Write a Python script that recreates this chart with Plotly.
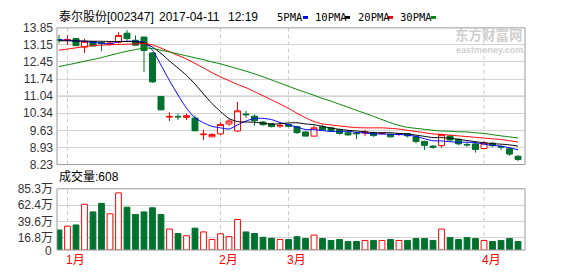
import plotly.graph_objects as go

W, H = 578, 276

# ---------------- data ----------------
idx = list(range(55))
opens = [13.37, 13.34, 13.41, 13.06, 13.28, 13.25, 13.18, 13.26, 13.63, 13.34,
         13.47, 12.82, 11.03, 10.18, 10.21, 10.17, 10.14, 9.46, 9.37, 9.49,
         9.90, 9.61, 10.31, 10.22, 9.98, 9.91, 9.81, 9.88, 9.79, 9.57,
         9.40, 9.79, 9.74, 9.66, 9.54, 9.52, 9.53, 9.54, 9.50, 9.48,
         9.47, 9.50, 9.37, 9.18, 8.99, 9.01, 9.40, 9.27, 9.06, 9.08,
         8.89, 9.11, 8.97, 8.88, 8.57]
highs = [13.56, 13.54, 13.43, 13.41, 13.30, 13.31, 13.30, 13.67, 13.76, 13.54,
         13.50, 12.84, 11.04, 10.38, 10.33, 10.33, 10.25, 9.67, 9.52, 9.96,
         10.09, 10.81, 10.44, 10.29, 10.02, 9.93, 9.92, 9.92, 9.82, 9.61,
         9.83, 9.87, 9.76, 9.70, 9.62, 9.57, 9.66, 9.59, 9.56, 9.50,
         9.52, 9.53, 9.41, 9.21, 9.03, 9.50, 9.46, 9.30, 9.14, 9.18,
         9.18, 9.16, 9.01, 8.92, 8.62]
lows = [13.22, 13.15, 13.10, 12.82, 13.08, 12.89, 13.12, 13.21, 13.32, 13.11,
        12.04, 11.59, 10.47, 10.02, 10.06, 10.06, 9.60, 9.24, 9.35, 9.44,
        9.83, 9.57, 10.15, 9.83, 9.82, 9.76, 9.74, 9.76, 9.50, 9.38,
        9.38, 9.62, 9.59, 9.46, 9.41, 9.27, 9.40, 9.37, 9.46, 9.35,
        9.40, 9.35, 9.10, 8.83, 8.88, 8.92, 9.20, 9.03, 8.96, 8.72,
        8.88, 8.95, 8.83, 8.59, 8.37]
closes = [13.35, 13.37, 13.12, 13.30, 13.11, 13.21, 13.22, 13.54, 13.41, 13.14,
          12.92, 11.63, 10.48, 10.21, 10.19, 10.24, 9.62, 9.48, 9.47, 9.88,
          10.02, 10.44, 10.28, 10.03, 9.87, 9.79, 9.84, 9.80, 9.54, 9.40,
          9.74, 9.66, 9.63, 9.51, 9.45, 9.50, 9.56, 9.42, 9.52, 9.37,
          9.49, 9.41, 9.18, 9.02, 8.94, 9.46, 9.24, 9.08, 9.04, 8.85,
          9.12, 9.01, 8.95, 8.66, 8.44]
volumes = [27.9, 33.2, 34.9, 63.7, 53.1, 65.0, 50.4, 79.6, 59.7, 49.5,
           53.1, 58.8, 49.5, 29.2, 23.0, 19.9, 30.5, 25.2, 14.6, 22.6,
           18.6, 42.5, 25.2, 23.0, 17.7, 16.3, 14.6, 14.6, 18.6, 15.9,
           20.8, 15.9, 13.3, 14.6, 11.9, 11.9, 13.3, 13.3, 13.3, 14.6,
           13.3, 13.3, 15.9, 15.9, 13.3, 29.2, 17.3, 14.6, 17.3, 15.9,
           13.3, 11.9, 13.3, 15.9, 11.9]
ma5 = [13.36, 13.34, 13.31, 13.29, 13.25, 13.22, 13.19, 13.28, 13.30, 13.30,
       13.25, 12.93, 12.32, 11.68, 11.09, 10.55, 10.15, 9.95, 9.80, 9.74,
       9.69, 9.86, 10.02, 10.13, 10.13, 10.08, 9.96, 9.87, 9.77, 9.67,
       9.66, 9.63, 9.59, 9.59, 9.60, 9.55, 9.53, 9.49, 9.49, 9.47,
       9.47, 9.44, 9.39, 9.29, 9.21, 9.20, 9.17, 9.15, 9.15, 9.13,
       9.07, 9.02, 8.99, 8.92, 8.84]
ma10 = [13.32, 13.32, 13.31, 13.31, 13.30, 13.30, 13.29, 13.29, 13.29, 13.28,
        13.23, 13.06, 12.80, 12.49, 12.20, 11.90, 11.54, 11.13, 10.74, 10.41,
        10.12, 10.00, 9.98, 9.97, 9.93, 9.89, 9.91, 9.94, 9.95, 9.90,
        9.87, 9.80, 9.73, 9.68, 9.64, 9.61, 9.58, 9.54, 9.54, 9.54,
        9.51, 9.49, 9.44, 9.39, 9.34, 9.34, 9.31, 9.27, 9.22, 9.17,
        9.13, 9.09, 9.07, 9.04, 8.99]
ma20 = [12.93, 12.98, 13.03, 13.08, 13.12, 13.14, 13.16, 13.17, 13.18, 13.19,
        13.21, 13.15, 13.02, 12.87, 12.72, 12.57, 12.39, 12.20, 12.01, 11.84,
        11.68, 11.53, 11.39, 11.23, 11.06, 10.89, 10.72, 10.54, 10.34, 10.16,
        10.00, 9.90, 9.86, 9.82, 9.78, 9.75, 9.74, 9.74, 9.74, 9.72,
        9.69, 9.64, 9.59, 9.54, 9.49, 9.47, 9.44, 9.41, 9.38, 9.35,
        9.32, 9.29, 9.26, 9.21, 9.16]
ma30 = [12.26, 12.33, 12.40, 12.48, 12.55, 12.63, 12.72, 12.81, 12.89, 12.96,
        13.02, 13.00, 12.93, 12.86, 12.78, 12.70, 12.62, 12.54, 12.45, 12.37,
        12.27, 12.17, 12.07, 11.96, 11.84, 11.71, 11.58, 11.45, 11.32, 11.20,
        11.08, 10.95, 10.84, 10.71, 10.59, 10.46, 10.34, 10.21, 10.08, 9.95,
        9.84, 9.76, 9.72, 9.68, 9.64, 9.61, 9.60, 9.58, 9.57, 9.54,
        9.51, 9.46, 9.41, 9.37, 9.32]
price_ticks = [8.23, 8.93, 9.63, 10.34, 11.04, 11.74, 12.45, 13.15, 13.85]
vol_ticks = [0, 16.8, 39.6, 62.4, 85.3]
vol_tick_text = ["0", "16.8万", "39.6万", "62.4万", "85.3万"]
month_idx = [1, 19, 27, 50]
month_labels = ["1月", "2月", "3月", "4月"]
ma_names = ["5PMA", "10PMA", "20PMA", "30PMA"]
title_parts = ["泰尔股份[002347]", "2017-04-11", "12:19"]
volume_label = "成交量:608"
watermark = ["东方财富网", "eastmoney.com"]

# ---------------- styling / layout helpers ----------------
RED = "#FF0000"
GREEN = "#00712F"
MA_COLORS = ["#0000FF", "#000000", "#FF0000", "#008000"]
GRID = "#D3D3D3"
BORDER = "#999999"
SANS = "Liberation Sans, Arial, Noto Sans CJK SC"
MONO = "DejaVu Sans Mono, monospace"


def px(x):
    return x / W


def py(y):
    return 1 - y / H


X0, X1 = 57, 525
P_TOP, P_BOT = 22, 166
V_TOP, V_BOT = 191.5, 256

fig = go.Figure()

fig.add_trace(go.Candlestick(
    x=idx, open=opens, high=highs, low=lows, close=closes,
    increasing=dict(line=dict(color=RED, width=1), fillcolor="white"),
    decreasing=dict(line=dict(color=GREEN, width=1), fillcolor=GREEN),
    whiskerwidth=0, showlegend=False, hoverinfo="skip",
    xaxis="x", yaxis="y"))

for vals, col in zip([ma5, ma10, ma20, ma30], MA_COLORS):
    fig.add_trace(go.Scatter(x=idx, y=vals, mode="lines",
                             line=dict(color=col, width=1, shape="spline", smoothing=0.6),
                             showlegend=False, hoverinfo="skip",
                             xaxis="x", yaxis="y"))

up = [c >= o for o, c in zip(opens, closes)]
fig.add_trace(go.Bar(
    x=idx, y=volumes, width=0.68,
    marker=dict(color=["white" if u else GREEN for u in up],
                line=dict(color=[RED if u else GREEN for u in up], width=1)),
    showlegend=False, hoverinfo="skip", xaxis="x", yaxis="y2"))

shapes = []
# dashed month separators
for m in month_idx:
    for (t, b) in [(P_TOP, P_BOT), (V_TOP, V_BOT)]:
        shapes.append(dict(type="line", xref="x", yref="paper", x0=m, x1=m,
                           y0=py(b), y1=py(t), layer="below",
                           line=dict(color="#CCCCCC", width=1, dash="4px,3px")))
# darker middle gridline of price panel
shapes.append(dict(type="line", xref="paper", yref="y", x0=px(X0), x1=px(X1),
                   y0=price_ticks[4], y1=price_ticks[4], layer="below",
                   line=dict(color=BORDER, width=1)))
# panel borders
for (t, b) in [(P_TOP, P_BOT), (V_TOP, V_BOT)]:
    shapes.append(dict(type="rect", xref="paper", yref="paper",
                       x0=px(X0), x1=px(X1), y0=py(b), y1=py(t),
                       line=dict(color=BORDER, width=1), fillcolor="rgba(0,0,0,0)",
                       layer="above"))
# legend colour marks
legend_text_x = [275, 313, 356, 398]
legend_mark_x = [303, 345, 388, 431]
for mx, col in zip(legend_mark_x, MA_COLORS):
    shapes.append(dict(type="rect", xref="paper", yref="paper",
                       x0=px(mx), x1=px(mx + 5), y0=py(12.5), y1=py(9.5),
                       line=dict(width=0), fillcolor=col))

annotations = []
# header
for txt, tx in zip(title_parts, [57, 157, 226]):
    annotations.append(dict(text=txt, x=px(tx), y=py(10.5), xref="paper", yref="paper",
                            xanchor="left", yanchor="middle", showarrow=False,
                            font=dict(family=SANS, size=12, color="#000000")))
for tx, name in zip(legend_text_x, ma_names):
    annotations.append(dict(text=name, x=px(tx), y=py(10.5), xref="paper", yref="paper",
                            xanchor="left", yanchor="middle", showarrow=False,
                            font=dict(family=MONO, size=10.5, color="#000000")))
# volume title
annotations.append(dict(text=volume_label, x=px(57), y=py(179), xref="paper", yref="paper",
                        xanchor="left", yanchor="middle", showarrow=False,
                        font=dict(family=SANS, size=12, color="#000000")))
# zero label of the volume axis (placed just under the panel floor)
annotations.append(dict(text=vol_tick_text[0], x=px(X0 - 3), y=py(V_BOT + 1.5),
                        xref="paper", yref="paper", xanchor="right", yanchor="middle",
                        showarrow=False,
                        font=dict(family=SANS, size=12, color="#333333")))
# month labels
for m, lab in zip(month_idx, month_labels):
    annotations.append(dict(text=lab, x=m, y=py(267), xref="x", yref="paper",
                            xanchor="left", yanchor="middle", xshift=-4, showarrow=False,
                            font=dict(family=SANS, size=12, color=RED)))
# watermark
annotations.append(dict(text="<b>" + watermark[0] + "</b>", x=px(525), y=py(28.5),
                        xref="paper", yref="paper",
                        xanchor="right", yanchor="middle", showarrow=False,
                        font=dict(family="Noto Sans CJK SC", size=13.5, color="#CFCFCF")))
annotations.append(dict(text="<b>" + watermark[1] + "</b>", x=px(525), y=py(45),
                        xref="paper", yref="paper",
                        xanchor="right", yanchor="middle", showarrow=False,
                        font=dict(family="Liberation Sans", size=9, color="#CFCFCF")))

fig.update_layout(
    width=W, height=H, margin=dict(l=0, r=0, t=0, b=0),
    paper_bgcolor="white", plot_bgcolor="white",
    boxgap=0.3, boxgroupgap=0.0, bargap=0,
    showlegend=False,
    xaxis=dict(domain=[px(X0), px(X1)], range=[-0.235, 54.82], anchor="y2",
               showgrid=False, zeroline=False, showticklabels=False, ticks="",
               rangeslider=dict(visible=False), fixedrange=True),
    yaxis=dict(domain=[py(P_BOT), py(P_TOP)], range=[price_ticks[0], price_ticks[-1]],
               tickvals=price_ticks, ticktext=[f"{v:.2f}" for v in price_ticks],
               gridcolor=GRID, gridwidth=1, zeroline=False, ticks="", anchor="x",
               tickfont=dict(family=SANS, size=12, color="#333333"),
               ticklabelstandoff=3, fixedrange=True),
    yaxis2=dict(domain=[py(V_BOT), py(V_TOP)], range=[0, vol_ticks[-1]],
                tickvals=vol_ticks[1:], ticktext=vol_tick_text[1:],
                gridcolor=GRID, gridwidth=1, zeroline=False, ticks="", anchor="x",
                tickfont=dict(family=SANS, size=12, color="#333333"),
                ticklabelstandoff=3, fixedrange=True),
    shapes=shapes, annotations=annotations,
)

fig.write_html("out.html", config=dict(displayModeBar=False, staticPlot=True))
